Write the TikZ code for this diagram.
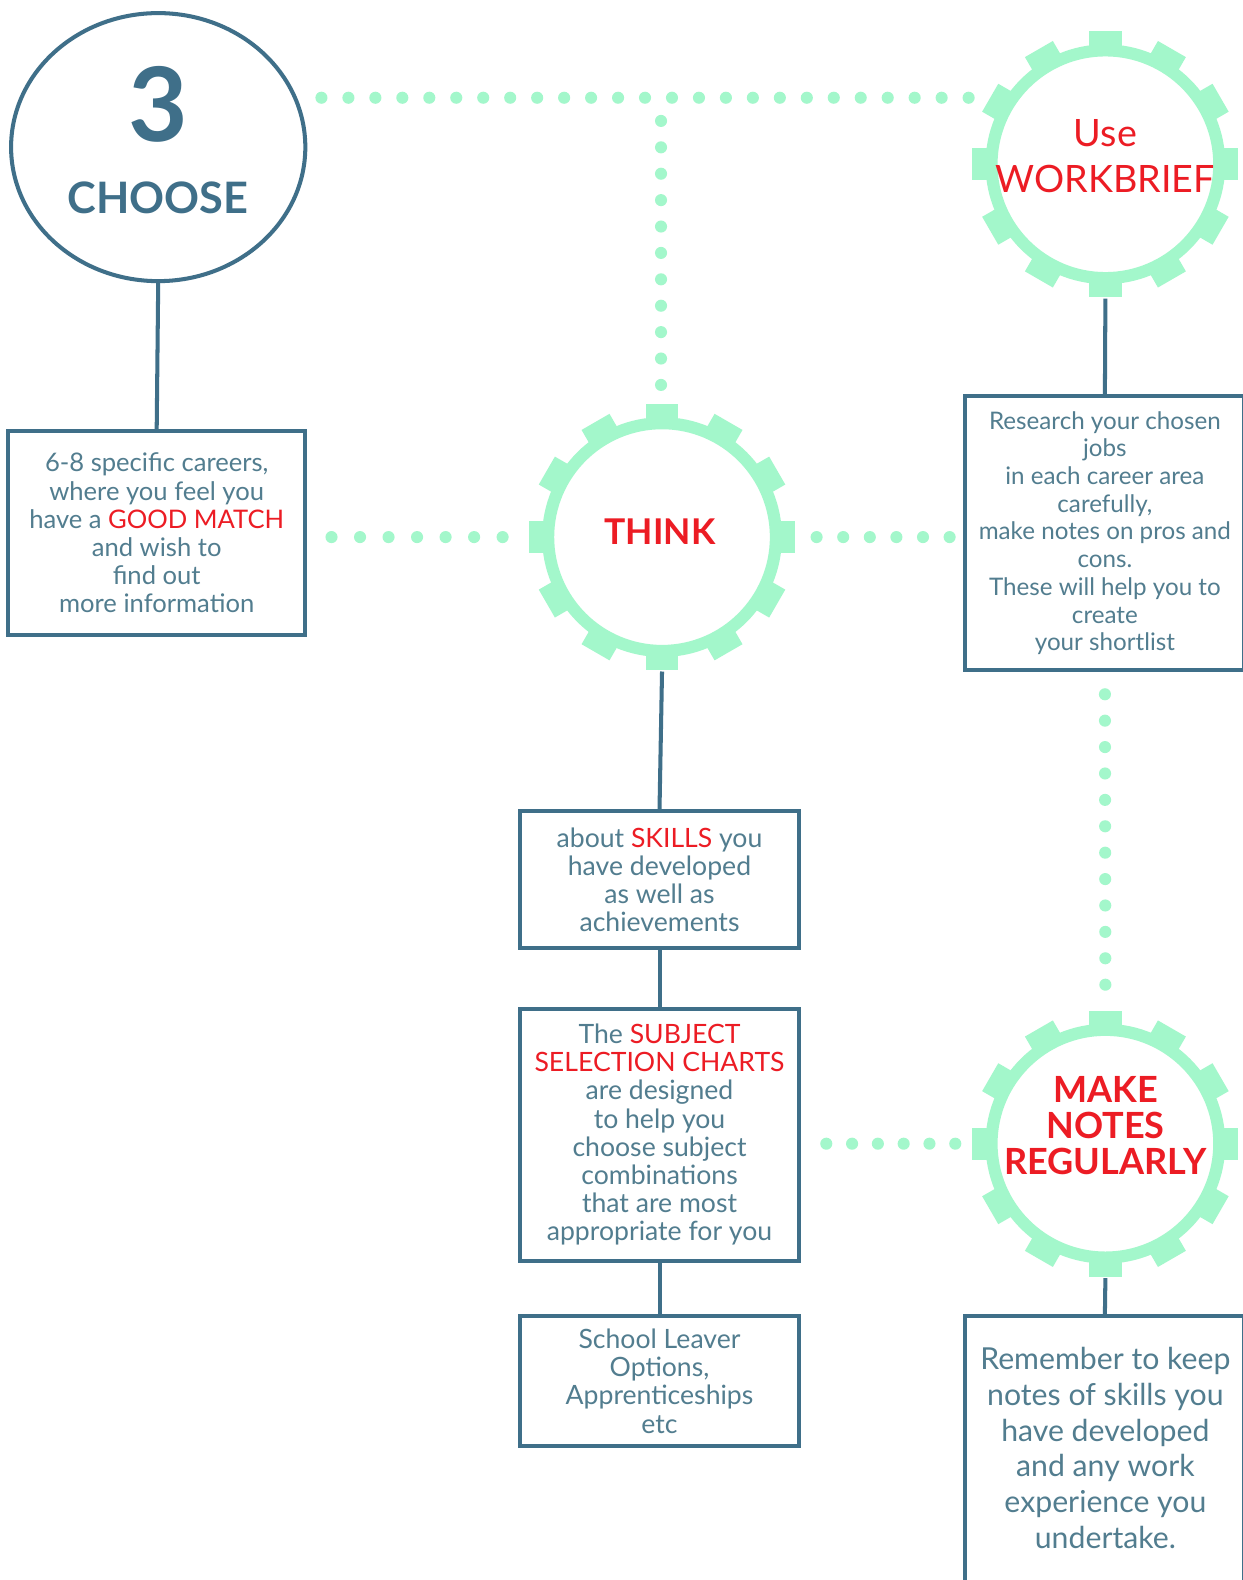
\documentclass[tikz,border=0pt]{standalone}
\usepackage{fontspec}
\setmainfont{Lato}
\usetikzlibrary{shapes.geometric}
\definecolor{dteal}{HTML}{3F6F89}
\definecolor{ttext}{HTML}{527D8F}
\definecolor{hred}{HTML}{EC1C24}
\definecolor{mint}{HTML}{A3F7CB}
\tikzset{
  box/.style={draw=dteal, line width=2pt, fill=white, align=center, text=ttext, inner sep=0pt},
  gearnode/.style={circle, minimum size=133pt, inner sep=0pt},
  gtext/.style={inner sep=0pt, align=center, text=hred},
  link/.style={draw=dteal, line width=2pt},
  dots/.style={draw=mint, line width=6pt, line cap=round, dash pattern=on 0pt off #1},
  plain/.style={inner sep=0pt, align=center},
}
\newcommand\gearring[1]{%
  \begin{scope}[shift={(#1)}]
    \foreach \a in {0,30,...,330} {\fill[mint,rotate=\a] (-16,110) rectangle (16,132);}
    \draw[mint,line width=6pt] (0,0) circle (113);
  \end{scope}}
\begin{document}
\begin{tikzpicture}[x=0.5pt,y=-0.5pt]
\fill[white] (0,0) rectangle (1245,1580);

% CHOOSE circle
\node[ellipse, draw=dteal, line width=2pt, minimum width=146pt, minimum height=133pt, inner sep=0pt] (choose) at (157,146) {};
\node[plain, text=dteal, font=\bfseries\fontsize{51}{51}\selectfont] (n3) at (157,104) {3};
\node[plain, text=dteal, font=\bfseries\fontsize{21.5}{21.5}\selectfont] (nchoose) at (157,196) {CHOOSE};

% box 1
\node[box, minimum width=147.5pt, minimum height=101pt, font=\fontsize{12.7}{14}\selectfont] (b1) at (155.5,529)
  {6-8 specific careers,\\ where you feel you\\ have a \textcolor{hred}{GOOD MATCH}\\ and wish to\\ find out\\ more information};

% gears
\gearring{1097,163}
\node[gearnode] (wb) at (1097,163) {};
\node[gtext, font=\fontsize{18.7}{23}\selectfont] (wbt) at (1097,155) {Use\\WORKBRIEF};
\gearring{657,533}
\node[gearnode] (think) at (657,533) {};
\node[gtext, font=\bfseries\fontsize{17.6}{18}\selectfont] (thinkt) at (655,528) {THINK};
\gearring{1097,1135}
\node[gearnode] (mn) at (1097,1135) {};
\node[gtext, font=\bfseries\fontsize{17.9}{17.75}\selectfont] (mnt) at (1097,1117) {MAKE\\NOTES\\REGULARLY};

% research box
\node[box, minimum width=138.5pt, minimum height=136pt, font=\fontsize{12}{13.75}\selectfont] (rb) at (1096.5,529)
  {Research your chosen\\ jobs\\ in each career area\\ carefully,\\ make notes on pros and\\ cons.\\ These will help you to\\ create\\ your shortlist};

% centre column
\node[box, minimum width=138.5pt, minimum height=68pt, font=\fontsize{13.2}{14}\selectfont] (skills) at (654.5,873)
  {about \textcolor{hred}{SKILLS} you\\ have developed\\ as well as\\ achievements};
\node[box, minimum width=138.5pt, minimum height=125pt, font=\fontsize{13.2}{14}\selectfont] (subject) at (654.5,1126)
  {The \textcolor{hred}{SUBJECT}\\ \textcolor{hred}{SELECTION CHARTS}\\ are designed\\ to help you\\ choose subject\\ combinations\\ that are most\\ appropriate for you};
\node[box, minimum width=138.5pt, minimum height=64.5pt, font=\fontsize{13.2}{14}\selectfont] (school) at (654.5,1370.5)
  {School Leaver\\ Options,\\ Apprenticeships\\ etc};

% remember box
\node[box, minimum width=138.5pt, minimum height=142pt] (rem) at (1096.5,1448) {};
\node[plain, text=ttext, font=\fontsize{15}{17.75}\selectfont] (remtext) at (1097,1437)
  {Remember to keep\\ notes of skills you\\ have developed\\ and any work\\ experience you\\ undertake.};

% solid links
\draw[link] (choose.south) -- (b1.north);
\draw[link] (wb.south) -- (rb.north);
\draw[link] (think.south) -- (skills.north);
\draw[link] (skills.south) -- (subject.north);
\draw[link] (subject.south) -- (school.north);
\draw[link] (mn.south) -- (rem.north);

% dotted links
\coordinate (tl) at (319,97);
\coordinate (tr) at (964,97);
\coordinate (tj) at (656,97);
\draw[dots=13.38pt] (tl) -- (tr);
\draw[dots=13.1pt, shorten <=11.5pt, shorten >=7pt] (tj) -- (tj |- think.north);
\draw[dots=14.15pt, shorten <=12pt, shorten >=12pt] (b1.east |- think.west) -- (think.west);
\draw[dots=13.2pt, shorten <=10pt, shorten >=6pt] (think.east) -- (rb.west |- think.east);
\draw[dots=13.1pt, shorten <=11pt, shorten >=12pt] (rb.south) -- (mn.north);
\draw[dots=12.8pt, shorten <=12.5pt, shorten >=7.5pt] (subject.east |- mn.west) -- (mn.west);

\pgfresetboundingbox
\useasboundingbox (0,0) rectangle (1233,1568);
\end{tikzpicture}
\end{document}
